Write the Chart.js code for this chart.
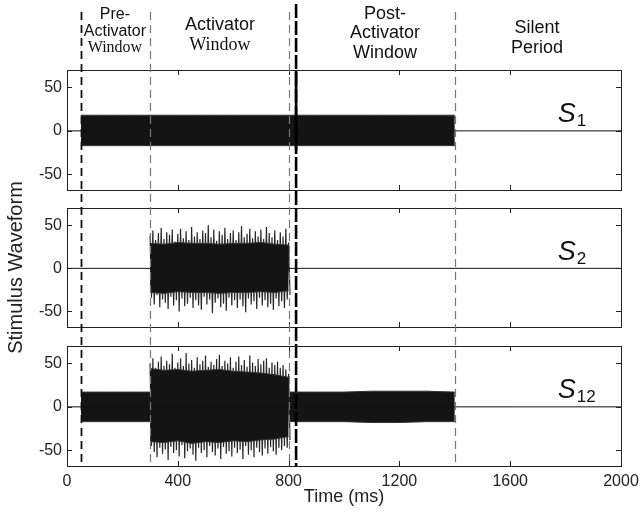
<!DOCTYPE html>
<html><head><meta charset="utf-8">
<script src="https://cdn.jsdelivr.net/npm/chart.js@4.4.0/dist/chart.umd.min.js"></script>
<style>
body{margin:0;background:#fff;}
#wrap{position:relative;width:641px;height:512px;}
canvas{position:absolute;left:0;top:0;}
</style></head><body>
<div id="wrap">
<canvas id="c2" width="641" height="512"></canvas>
<canvas id="c1" width="641" height="512"></canvas>
<canvas id="c3" width="641" height="512"></canvas>
</div>
<script>
// ---- data ----
const xTickValues = [0, 400, 800, 1200, 1600, 2000];
const yTickValues = [-50, 0, 50];
const windowEdges = [50, 300, 800, 1400];
const markerTime = 827;
const signalNames = ['1', '2', '12'];

// S1: flat noise envelope, 50..1400 ms every 50 ms
const s1Start = 50, s1Step = 50;
const s1Up = [18,18,18,18,18,18,18,18,18,18,18,18,18,18,18,18,18,18,18,18,18,18,18,18,18,18,18,18];
const s1Dn = [-17,-17,-17,-17,-17,-17,-17,-17,-17,-17,-17,-17,-17,-17,-17,-17,-17,-17,-17,-17,-17,-17,-17,-17,-17,-17,-17,-17];

// S2: activator noise, core envelope every 50 ms, peaks every 10 ms (300..800 ms)
const s2CoreStart = 300, s2CoreStep = 50;
const s2CoreUp = [29,28,30,29,29,28,29,29,30,28,27];
const s2CoreDn = [-28,-29,-27,-28,-28,-29,-28,-28,-27,-28,-26];
const s2Start = 300, s2Step = 10;
const s2Up = [38,44,33,41,47,34,42,39,45,31,40,46,35,43,33,48,37,42,34,44,41,50,36,45,32,43,39,47,34,41,44,33,42,49,36,40,46,35,43,37,45,34,48,41,36,44,33,42,37,46,30];
const s2Dn = [-34,-42,-31,-45,-36,-40,-47,-33,-43,-37,-50,-35,-44,-41,-34,-46,-37,-43,-48,-33,-42,-36,-52,-40,-35,-45,-41,-49,-34,-43,-37,-46,-36,-44,-51,-35,-42,-38,-47,-34,-43,-37,-45,-41,-48,-35,-44,-38,-46,-36,-31];

// S12: pre window flat, activator (core + peaks), post window flat
const s12PreStart = 50, s12PreStep = 50;
const s12PreUp = [17,17,17,17,17,17];
const s12PreDn = [-17,-17,-17,-17,-17,-17];
const s12CoreStart = 300, s12CoreStep = 50;
const s12CoreUp = [44,42,43,41,42,43,41,40,39,37,34];
const s12CoreDn = [-40,-41,-39,-42,-40,-41,-39,-40,-38,-37,-34];
const s12ActStart = 300, s12ActStep = 10;
const s12ActUp = [50,56,45,52,58,47,53,49,61,45,51,56,47,62,50,54,45,57,49,53,59,46,52,48,55,60,47,53,50,57,45,52,58,48,54,46,59,51,47,55,49,53,56,45,51,48,52,45,48,43,38];
const s12ActDn = [-45,-52,-58,-47,-54,-49,-61,-46,-53,-50,-57,-44,-59,-51,-48,-55,-62,-47,-53,-50,-58,-45,-52,-56,-48,-60,-46,-54,-51,-57,-47,-53,-49,-60,-45,-55,-50,-58,-47,-52,-56,-48,-54,-46,-51,-55,-47,-50,-45,-47,-38];
const s12PostStart = 800, s12PostStep = 100;
const s12PostUp = [17,17,17,18,18,18,17];
const s12PostDn = [-17,-17,-17,-18,-18,-17,-17];

// ---- layout / style ----
const SANS = '"Liberation Sans", Arial, sans-serif';
const SERIF = '"Liberation Serif", "Times New Roman", serif';
const headerLabels = [
  {t: 173, lines: [['Pre-', SANS, 16, 15], ['Activator', SANS, 16, 32], ['Window', SERIF, 16, 48]]},
  {t: 552, lines: [['Activator', SANS, 18, 25], ['Window', SERIF, 18, 45]]},
  {t: 1148, lines: [['Post-', SANS, 18, 14], ['Activator', SANS, 18, 33], ['Window', SANS, 18, 53]]},
  {t: 1697, lines: [['Silent', SANS, 18, 28], ['Period', SANS, 18, 48]]}
];

function pts(start, step, vals) { return vals.map((v, i) => ({x: start + i * step, y: v})); }
function zig(start, step, up, dn) {
  const out = [];
  for (let i = 0; i < Math.min(up.length, dn.length); i++) {
    out.push({x: start + i * step, y: up[i]});
    out.push({x: start + i * step + step / 2, y: dn[i]});
  }
  return out;
}
const zeroLine = () => ({data: [{x: 0, y: 0}, {x: 2000, y: 0}], borderColor: '#111', borderWidth: 1, pointRadius: 0, fill: false});
const bandPair = (start, step, up, dn) => [
  {data: pts(start, step, up), borderColor: '#333', borderWidth: 1, pointRadius: 0, fill: false},
  {data: pts(start, step, dn), borderColor: '#333', borderWidth: 1, pointRadius: 0, fill: '-1', backgroundColor: '#141414'}
];
const zigSet = (start, step, up, dn) => ({data: zig(start, step, up, dn), borderColor: '#262626', borderWidth: 1.2, pointRadius: 0, fill: false});

const panelPlugin = {
  id: 'panel',
  afterDraw(chart, args, o) {
    const ctx = chart.ctx, a = chart.chartArea;
    const xs = chart.scales.x, ys = chart.scales.y;
    ctx.save();
    if (o.lines) {
      windowEdges.forEach((t, i) => {
        const x = Math.round(xs.getPixelForValue(t)) + 0.5;
        ctx.beginPath();
        ctx.setLineDash([8, 5]);
        ctx.strokeStyle = i === 0 ? '#111' : '#777';
        ctx.lineWidth = i === 0 ? 1.8 : 1.2;
        ctx.moveTo(x, 12); ctx.lineTo(x, a.bottom);
        ctx.stroke();
      });
      const mx = xs.getPixelForValue(markerTime);
      ctx.strokeStyle = '#000'; ctx.lineWidth = 2.6;
      ctx.setLineDash([14, 3]);
      ctx.beginPath(); ctx.moveTo(mx, 4); ctx.lineTo(mx, a.bottom); ctx.stroke();
      ctx.setLineDash([]);
    }
    if (o.solidMarker) {
      const mx = xs.getPixelForValue(markerTime);
      ctx.strokeStyle = '#000'; ctx.lineWidth = 2.6;
      ctx.beginPath(); ctx.moveTo(mx, a.top); ctx.lineTo(mx, ys.getPixelForValue(-22)); ctx.stroke();
    }
    ctx.strokeStyle = '#222'; ctx.lineWidth = 1;
    ctx.strokeRect(Math.round(a.left) + 0.5, Math.round(a.top) + 0.5, Math.round(a.right - a.left), Math.round(a.bottom - a.top));
    ctx.beginPath();
    xTickValues.forEach(t => {
      const x = Math.round(xs.getPixelForValue(t)) + 0.5;
      ctx.moveTo(x, a.top); ctx.lineTo(x, a.top + 5);
      ctx.moveTo(x, a.bottom); ctx.lineTo(x, a.bottom - 5);
    });
    yTickValues.forEach(v => {
      const y = Math.round(ys.getPixelForValue(v)) + 0.5;
      ctx.moveTo(a.left, y); ctx.lineTo(a.left + 5, y);
      ctx.moveTo(a.right, y); ctx.lineTo(a.right - 5, y);
    });
    ctx.stroke();
    const lx = xs.getPixelForValue(1772), ly = ys.getPixelForValue(10);
    ctx.fillStyle = '#111';
    ctx.textBaseline = 'alphabetic'; ctx.textAlign = 'left';
    ctx.font = 'italic 27px ' + SANS;
    ctx.fillText('S', lx, ly);
    const w = ctx.measureText('S').width;
    ctx.font = '17px ' + SANS;
    ctx.fillText(o.name, lx + w + 1, ly + 4);
    if (o.header) {
      ctx.textAlign = 'center'; ctx.textBaseline = 'middle';
      headerLabels.forEach(h => {
        const cx = xs.getPixelForValue(h.t);
        h.lines.forEach(([txt, fam, sz, y]) => {
          ctx.font = sz + 'px ' + fam;
          ctx.fillText(txt, cx, y);
        });
      });
    }
    ctx.restore();
  }
};

function makeChart(id, datasets, opts) {
  return new Chart(document.getElementById(id), {
    type: 'line',
    data: {datasets},
    plugins: [panelPlugin],
    options: {
      responsive: false, animation: false, devicePixelRatio: 1,
      layout: {padding: {top: opts.padTop, bottom: opts.padBottom, left: 0, right: 20}},
      plugins: {legend: {display: false}, tooltip: {enabled: false}, panel: opts.panel},
      scales: {
        x: {
          type: 'linear', min: 0, max: 2000, display: opts.showX,
          afterBuildTicks: s => { s.ticks = xTickValues.map(v => ({value: v})); },
          afterFit: s => { if (opts.showX) s.height = 44; s.paddingLeft = 0; s.paddingRight = 0; },
          grid: {display: false, drawTicks: false}, border: {display: false},
          ticks: {font: {family: SANS, size: 16}, color: '#222', padding: 6, maxRotation: 0, callback: v => String(v)},
          title: {display: opts.showX, text: 'Time (ms)', font: {family: SANS, size: 18}, color: '#222', padding: {top: 2, bottom: 2}}
        },
        y: {
          type: 'linear', min: -68, max: 70, position: 'left',
          afterBuildTicks: s => { s.ticks = yTickValues.map(v => ({value: v})); },
          afterFit: s => { s.width = 67; s.paddingTop = 0; s.paddingBottom = 0; },
          grid: {display: false, drawTicks: false}, border: {display: false},
          ticks: {font: {family: SANS, size: 16}, color: '#222', padding: 5, callback: v => String(v)},
          title: {display: !!opts.yTitle, text: 'Stimulus Waveform', font: {family: SANS, size: 20}, color: '#222', padding: {top: 4, bottom: 4}}
        }
      }
    }
  });
}

makeChart('c1', [zeroLine(), ...bandPair(s1Start, s1Step, s1Up, s1Dn)],
  {padTop: 70, padBottom: 322, showX: false, panel: {name: signalNames[0], header: true, solidMarker: true}});
makeChart('c2', [zeroLine(), ...bandPair(s2CoreStart, s2CoreStep, s2CoreUp, s2CoreDn), zigSet(s2Start, s2Step, s2Up, s2Dn)],
  {padTop: 208, padBottom: 185, showX: false, yTitle: true, panel: {name: signalNames[1]}});
makeChart('c3', [zeroLine(), ...bandPair(s12PreStart, s12PreStep, s12PreUp, s12PreDn),
  ...bandPair(s12CoreStart, s12CoreStep, s12CoreUp, s12CoreDn),
  zigSet(s12ActStart, s12ActStep, s12ActUp, s12ActDn),
  ...bandPair(s12PostStart, s12PostStep, s12PostUp, s12PostDn)],
  {padTop: 346, padBottom: 2, showX: true, panel: {name: signalNames[2], lines: true}});
</script>
</body></html>
